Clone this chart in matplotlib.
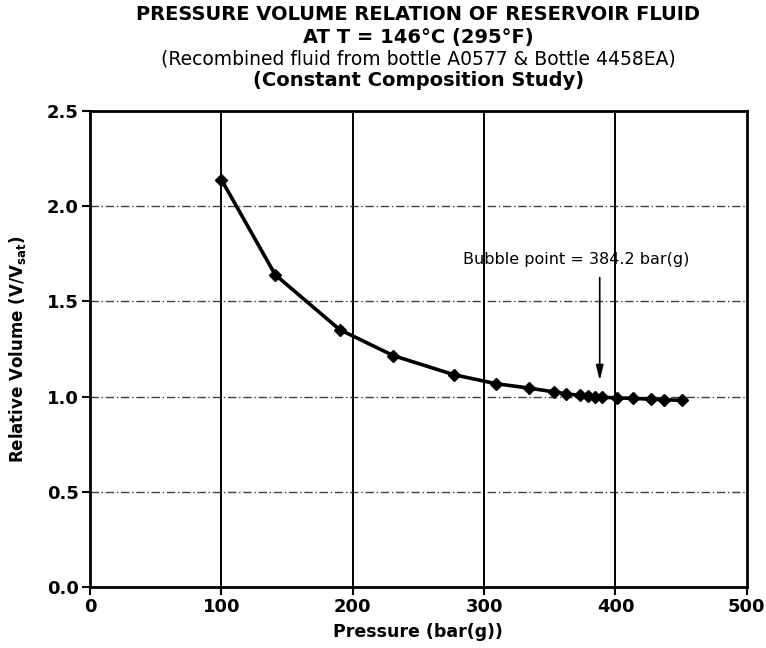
import matplotlib.pyplot as plt

# Constant composition study
PRESSURE_BARG = [100, 141, 190, 231, 277, 309, 334, 353, 362, 373, 379,
                 384.2, 390, 401, 413, 427, 437, 451]
RELATIVE_VOLUME = [2.140, 1.640, 1.352, 1.215, 1.115, 1.068, 1.045, 1.025,
                   1.015, 1.006, 1.002, 1.000, 0.997, 0.993, 0.991, 0.986,
                   0.984, 0.980]

X_TICKS = [0, 100, 200, 300, 400, 500]
Y_TICKS = [0.0, 0.5, 1.0, 1.5, 2.0, 2.5]
BUBBLE_POINT = 384.2

plt.rcParams["font.family"] = ["DejaVu Sans"]
plt.rcParams["mathtext.fontset"] = "dejavusans"

fig = plt.figure(figsize=(7.66, 6.48), dpi=100)
ax = fig.add_axes([0.1175, 0.0941, 0.8575, 0.7346])

# grid: solid verticals, dash-dot horizontals
for xv in X_TICKS[1:-1]:
    ax.axvline(xv, color="black", linewidth=1.4, zorder=1)
for yv in Y_TICKS[1:-1]:
    ax.axhline(yv, color="black", linewidth=1.0, linestyle=(0, (6, 2, 1, 2)),
               alpha=0.75, zorder=1)

ax.plot(PRESSURE_BARG, RELATIVE_VOLUME, color="black", linewidth=2.6,
        marker="D", markersize=6.5, zorder=3)

ax.annotate("", xy=(388, 1.07), xytext=(388, 1.64),
            arrowprops=dict(arrowstyle="-|>,head_length=0.9,head_width=0.22",
                            color="black", linewidth=1.2))
ax.text(BUBBLE_POINT - 14, 1.72, f"Bubble point = {BUBBLE_POINT} bar(g)",
        ha="center", va="center", fontsize=11.5)

ax.set_xlim(0, 500)
ax.set_ylim(0, 2.5)
ax.set_xticks(X_TICKS)
ax.set_yticks(Y_TICKS)
ax.set_yticklabels([f"{v:.1f}" for v in Y_TICKS])
ax.tick_params(direction="out", length=6, width=1.5, labelsize=13, pad=2)
for lab in ax.get_xticklabels() + ax.get_yticklabels():
    lab.set_fontweight("bold")
for sp in ax.spines.values():
    sp.set_linewidth(2.0)

ax.set_xlabel("Pressure (bar(g))", fontsize=12.5, fontweight="bold", labelpad=5)
ax.set_ylabel("Relative Volume (V/V$_{\\mathbf{sat}}$)", fontsize=12,
              fontweight="bold", labelpad=14)

cx = 0.1175 + 0.8575 / 2
fig.text(cx, 1 - 15 / 648, "PRESSURE VOLUME RELATION OF RESERVOIR FLUID",
         ha="center", va="center", fontsize=14, fontweight="bold")
fig.text(cx, 1 - 37 / 648, "AT T = 146\u00b0C (295\u00b0F)",
         ha="center", va="center", fontsize=14, fontweight="bold")
fig.text(cx, 1 - 59 / 648, "(Recombined fluid from bottle A0577 & Bottle 4458EA)",
         ha="center", va="center", fontsize=13.5)
fig.text(cx, 1 - 81 / 648, "(Constant Composition Study)",
         ha="center", va="center", fontsize=14, fontweight="bold")

fig.savefig("out.png", dpi=100)
